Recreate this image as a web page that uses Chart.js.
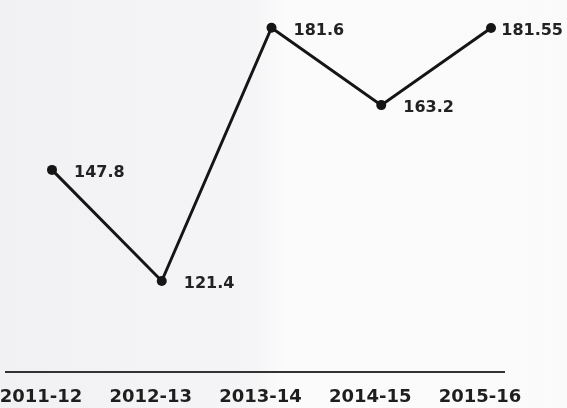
<!DOCTYPE html>
<html>
<head>
<meta charset="utf-8">
<script src="https://cdn.jsdelivr.net/npm/chart.js@4.4.1/dist/chart.umd.min.js"></script>
<style>
  html, body { margin: 0; padding: 0; background: #f8f8f8; }
  #wrap { width: 567px; height: 408px; }
</style>
</head>
<body>
<div id="wrap"><canvas id="lineChart"></canvas></div>
<script>
// years and values
var years = ["2011-12", "2012-13", "2013-14", "2014-15", "2015-16"];
var values = [147.8, 121.4, 181.6, 163.2, 181.55];
var valueText = ["147.8", "121.4", "181.6", "163.2", "181.55"];

// soft paper tone behind everything
var paper = {
	id: 'paper',
	beforeDraw: function (chart) {
		var c = chart.ctx;
		var g = c.createLinearGradient(0, 0, chart.width, 0);
		g.addColorStop(0, '#f1f1f3');
		g.addColorStop(0.45, '#f5f5f7');
		g.addColorStop(0.5, '#fbfbfb');
		g.addColorStop(1, '#fafafa');
		c.save();
		c.fillStyle = g;
		c.fillRect(0, 0, chart.width, chart.height);
		c.restore();
	}
};

// value labels, drawn under the markers
var valueLabels = {
	id: 'valueLabels',
	beforeDatasetsDraw: function (chart) {
		var c = chart.ctx;
		var pts = chart.getDatasetMeta(0).data;
		c.save();
		c.font = 'bold 16px "DejaVu Sans"';
		c.fillStyle = '#222';
		c.textBaseline = 'middle';
		pts.forEach(function (p, i) {
			var t = valueText[i];
			var w = c.measureText(t).width;
			var x = Math.min(p.x + 22, chart.width - 4 - w);
			c.fillText(t, x, p.y + 3);
		});
		c.restore();
	}
};

// long base rule under the plot
var baseRule = {
	id: 'baseRule',
	afterDraw: function (chart) {
		var a = chart.chartArea;
		var c = chart.ctx;
		c.save();
		c.strokeStyle = '#333';
		c.lineWidth = 2;
		c.beginPath();
		c.moveTo(a.left - 47, a.bottom + 1);
		c.lineTo(a.right + 14, a.bottom + 1);
		c.stroke();
		c.restore();
	}
};

var ctx = document.getElementById("lineChart");
var myChart = new Chart(ctx, {
	type: 'line',
	data: {
		labels: years,
		datasets: [{
			data: values,
			borderColor: '#151515',
			borderWidth: 3,
			pointRadius: 5,
			pointBackgroundColor: '#151515',
			pointBorderColor: '#151515',
			pointBorderWidth: 0,
			tension: 0,
			fill: false
		}]
	},
	options: {
		responsive: true,
		maintainAspectRatio: false,
		animation: false,
		layout: {
			padding: { left: 52, right: 76, top: 1, bottom: 0 }
		},
		plugins: {
			legend: { display: false },
			tooltip: { enabled: false }
		},
		scales: {
			x: {
				offset: false,
				grid: { display: false, drawTicks: false },
				border: { display: false },
				afterFit: function (scale) {
					scale.height = 37;
					scale.paddingLeft = 0;
					scale.paddingRight = 0;
				},
				ticks: {
					color: '#1e1e1e',
					font: { family: 'DejaVu Sans', size: 18, weight: 'bold' },
					padding: 16,
					labelOffset: -11,
					maxRotation: 0,
					autoSkip: false
				}
			},
			y: {
				display: false,
				min: 100,
				max: 187
			}
		}
	},
	plugins: [paper, valueLabels, baseRule]
});
</script>
</body>
</html>
